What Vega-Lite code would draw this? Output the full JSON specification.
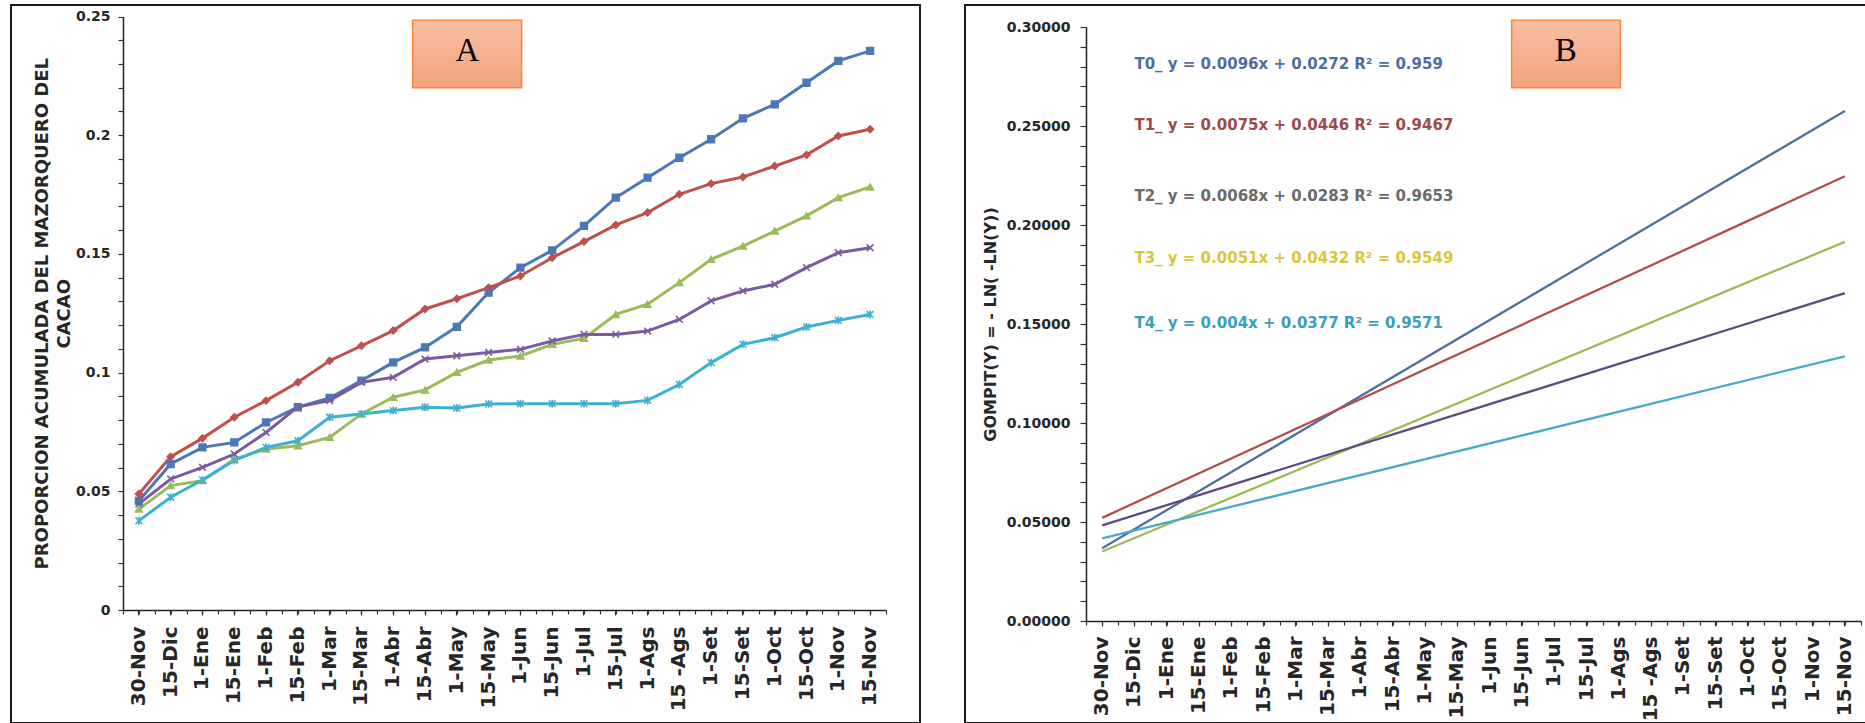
{
  "$schema": "https://vega.github.io/schema/vega-lite/v6.json",
  "padding": {"left": 10, "top": 4, "right": 0, "bottom": 0},
  "background": "white",
  "spacing": 43,
  "config": {
    "view": {"stroke": "#1a1a1a", "strokeWidth": 2},
    "font": "DejaVu Sans",
    "axis": {
      "grid": false,
      "labelFont": "DejaVu Sans",
      "labelFontWeight": "bold",
      "labelColor": "#262626",
      "titleFont": "DejaVu Sans",
      "titleFontWeight": "bold",
      "titleColor": "#262626",
      "domainColor": "#222222",
      "domainWidth": 1.5,
      "tickColor": "#333333",
      "tickWidth": 1.2,
      "tickSize": 5,
      "labelOverlap": false
    }
  },
  "datasets": {
    "obs": [
      {"d": "30-Nov", "s": "T0", "v": 0.046}, {"d": "15-Dic", "s": "T0", "v": 0.0615}, {"d": "1-Ene", "s": "T0", "v": 0.0685}, {"d": "15-Ene", "s": "T0", "v": 0.0706}, {"d": "1-Feb", "s": "T0", "v": 0.079}, {"d": "15-Feb", "s": "T0", "v": 0.0854}, {"d": "1-Mar", "s": "T0", "v": 0.0893}, {"d": "15-Mar", "s": "T0", "v": 0.0966}, {"d": "1-Abr", "s": "T0", "v": 0.1043}, {"d": "15-Abr", "s": "T0", "v": 0.1106}, {"d": "1-May", "s": "T0", "v": 0.1193}, {"d": "15-May", "s": "T0", "v": 0.1337}, {"d": "1-Jun", "s": "T0", "v": 0.1442}, {"d": "15-Jun", "s": "T0", "v": 0.1515}, {"d": "1-Jul", "s": "T0", "v": 0.1618}, {"d": "15-Jul", "s": "T0", "v": 0.1737}, {"d": "1-Ags", "s": "T0", "v": 0.1821}, {"d": "15 -Ags", "s": "T0", "v": 0.1905}, {"d": "1-Set", "s": "T0", "v": 0.1983}, {"d": "15-Set", "s": "T0", "v": 0.2071}, {"d": "1-Oct", "s": "T0", "v": 0.213}, {"d": "15-Oct", "s": "T0", "v": 0.2221}, {"d": "1-Nov", "s": "T0", "v": 0.2313}, {"d": "15-Nov", "s": "T0", "v": 0.2355},
      {"d": "30-Nov", "s": "T1", "v": 0.0489}, {"d": "15-Dic", "s": "T1", "v": 0.0646}, {"d": "1-Ene", "s": "T1", "v": 0.0723}, {"d": "15-Ene", "s": "T1", "v": 0.0812}, {"d": "1-Feb", "s": "T1", "v": 0.0882}, {"d": "15-Feb", "s": "T1", "v": 0.0959}, {"d": "1-Mar", "s": "T1", "v": 0.105}, {"d": "15-Mar", "s": "T1", "v": 0.1113}, {"d": "1-Abr", "s": "T1", "v": 0.1177}, {"d": "15-Abr", "s": "T1", "v": 0.1268}, {"d": "1-May", "s": "T1", "v": 0.1311}, {"d": "15-May", "s": "T1", "v": 0.1358}, {"d": "1-Jun", "s": "T1", "v": 0.1407}, {"d": "15-Jun", "s": "T1", "v": 0.1484}, {"d": "1-Jul", "s": "T1", "v": 0.1552}, {"d": "15-Jul", "s": "T1", "v": 0.1622}, {"d": "1-Ags", "s": "T1", "v": 0.1674}, {"d": "15 -Ags", "s": "T1", "v": 0.1751}, {"d": "1-Set", "s": "T1", "v": 0.1796}, {"d": "15-Set", "s": "T1", "v": 0.1824}, {"d": "1-Oct", "s": "T1", "v": 0.187}, {"d": "15-Oct", "s": "T1", "v": 0.1917}, {"d": "1-Nov", "s": "T1", "v": 0.1997}, {"d": "15-Nov", "s": "T1", "v": 0.2025},
      {"d": "30-Nov", "s": "T2", "v": 0.0425}, {"d": "15-Dic", "s": "T2", "v": 0.0524}, {"d": "1-Ene", "s": "T2", "v": 0.0545}, {"d": "15-Ene", "s": "T2", "v": 0.0635}, {"d": "1-Feb", "s": "T2", "v": 0.0678}, {"d": "15-Feb", "s": "T2", "v": 0.0692}, {"d": "1-Mar", "s": "T2", "v": 0.0727}, {"d": "15-Mar", "s": "T2", "v": 0.0826}, {"d": "1-Abr", "s": "T2", "v": 0.0896}, {"d": "15-Abr", "s": "T2", "v": 0.0927}, {"d": "1-May", "s": "T2", "v": 0.1001}, {"d": "15-May", "s": "T2", "v": 0.1053}, {"d": "1-Jun", "s": "T2", "v": 0.107}, {"d": "15-Jun", "s": "T2", "v": 0.1119}, {"d": "1-Jul", "s": "T2", "v": 0.1144}, {"d": "15-Jul", "s": "T2", "v": 0.1245}, {"d": "1-Ags", "s": "T2", "v": 0.1288}, {"d": "15 -Ags", "s": "T2", "v": 0.1379}, {"d": "1-Set", "s": "T2", "v": 0.1477}, {"d": "15-Set", "s": "T2", "v": 0.1533}, {"d": "1-Oct", "s": "T2", "v": 0.1596}, {"d": "15-Oct", "s": "T2", "v": 0.166}, {"d": "1-Nov", "s": "T2", "v": 0.1737}, {"d": "15-Nov", "s": "T2", "v": 0.1782},
      {"d": "30-Nov", "s": "T3", "v": 0.0447}, {"d": "15-Dic", "s": "T3", "v": 0.0552}, {"d": "1-Ene", "s": "T3", "v": 0.0601}, {"d": "15-Ene", "s": "T3", "v": 0.0657}, {"d": "1-Feb", "s": "T3", "v": 0.0748}, {"d": "15-Feb", "s": "T3", "v": 0.0856}, {"d": "1-Mar", "s": "T3", "v": 0.0882}, {"d": "15-Mar", "s": "T3", "v": 0.0959}, {"d": "1-Abr", "s": "T3", "v": 0.098}, {"d": "15-Abr", "s": "T3", "v": 0.1057}, {"d": "1-May", "s": "T3", "v": 0.1071}, {"d": "15-May", "s": "T3", "v": 0.1085}, {"d": "1-Jun", "s": "T3", "v": 0.1098}, {"d": "15-Jun", "s": "T3", "v": 0.1133}, {"d": "1-Jul", "s": "T3", "v": 0.1161}, {"d": "15-Jul", "s": "T3", "v": 0.1161}, {"d": "1-Ags", "s": "T3", "v": 0.1175}, {"d": "15 -Ags", "s": "T3", "v": 0.1224}, {"d": "1-Set", "s": "T3", "v": 0.1302}, {"d": "15-Set", "s": "T3", "v": 0.1344}, {"d": "1-Oct", "s": "T3", "v": 0.1372}, {"d": "15-Oct", "s": "T3", "v": 0.1442}, {"d": "1-Nov", "s": "T3", "v": 0.1505}, {"d": "15-Nov", "s": "T3", "v": 0.1526},
      {"d": "30-Nov", "s": "T4", "v": 0.0376}, {"d": "15-Dic", "s": "T4", "v": 0.0475}, {"d": "1-Ene", "s": "T4", "v": 0.0548}, {"d": "15-Ene", "s": "T4", "v": 0.063}, {"d": "1-Feb", "s": "T4", "v": 0.0685}, {"d": "15-Feb", "s": "T4", "v": 0.0713}, {"d": "1-Mar", "s": "T4", "v": 0.0812}, {"d": "15-Mar", "s": "T4", "v": 0.0826}, {"d": "1-Abr", "s": "T4", "v": 0.084}, {"d": "15-Abr", "s": "T4", "v": 0.0854}, {"d": "1-May", "s": "T4", "v": 0.0851}, {"d": "15-May", "s": "T4", "v": 0.0868}, {"d": "1-Jun", "s": "T4", "v": 0.0869}, {"d": "15-Jun", "s": "T4", "v": 0.0869}, {"d": "1-Jul", "s": "T4", "v": 0.0869}, {"d": "15-Jul", "s": "T4", "v": 0.0869}, {"d": "1-Ags", "s": "T4", "v": 0.0883}, {"d": "15 -Ags", "s": "T4", "v": 0.095}, {"d": "1-Set", "s": "T4", "v": 0.1042}, {"d": "15-Set", "s": "T4", "v": 0.1119}, {"d": "1-Oct", "s": "T4", "v": 0.1147}, {"d": "15-Oct", "s": "T4", "v": 0.1192}, {"d": "1-Nov", "s": "T4", "v": 0.122}, {"d": "15-Nov", "s": "T4", "v": 0.1245}
    ],
    "fit": [
      {"d": "30-Nov", "s": "T0", "v": 0.0368}, {"d": "15-Nov", "s": "T0", "v": 0.2576},
      {"d": "30-Nov", "s": "T1", "v": 0.0521}, {"d": "15-Nov", "s": "T1", "v": 0.2246},
      {"d": "30-Nov", "s": "T2", "v": 0.0351}, {"d": "15-Nov", "s": "T2", "v": 0.1915},
      {"d": "30-Nov", "s": "T3", "v": 0.0483}, {"d": "15-Nov", "s": "T3", "v": 0.1656},
      {"d": "30-Nov", "s": "T4", "v": 0.0417}, {"d": "15-Nov", "s": "T4", "v": 0.1337}
    ],
    "eq": [
      {"s": "T0", "t": "T0_ y = 0.0096x + 0.0272  R² = 0.959", "d": "15-Dic", "v": 0.2813},
      {"s": "T1", "t": "T1_ y = 0.0075x + 0.0446  R² = 0.9467", "d": "15-Dic", "v": 0.2505},
      {"s": "T2", "t": "T2_ y = 0.0068x + 0.0283  R² = 0.9653", "d": "15-Dic", "v": 0.2146},
      {"s": "T3", "t": "T3_ y = 0.0051x + 0.0432  R² = 0.9549", "d": "15-Dic", "v": 0.1833},
      {"s": "T4", "t": "T4_ y = 0.004x + 0.0377  R² = 0.9571", "d": "15-Dic", "v": 0.1505}
    ]
  },
  "hconcat": [
    {
      "width": 909,
      "height": 718,
      "resolve": {"scale": {"x": "independent"}, "axis": {"x": "independent"}},
      "layer": [
        {
          "data": {"name": "obs"},
          "encoding": {
            "x": {
              "field": "d", "type": "nominal",
              "scale": {"type": "band", "domain": ["30-Nov","15-Dic","1-Ene","15-Ene","1-Feb","15-Feb","1-Mar","15-Mar","1-Abr","15-Abr","1-May","15-May","1-Jun","15-Jun","1-Jul","15-Jul","1-Ags","15 -Ags","1-Set","15-Set","1-Oct","15-Oct","1-Nov","15-Nov"], "range": [112, 875], "paddingInner": 0, "paddingOuter": 0},
              "axis": {"orient": "bottom", "offset": -113, "title": null, "labelAngle": 270, "labelFontSize": 20, "labelPadding": 11, "labelOverlap": false, "labelBound": false}
            },
            "y": {
              "field": "v", "type": "quantitative",
              "scale": {"domain": [0, 0.25], "range": [605, 11.5], "nice": false, "zero": true},
              "axis": {
                "orient": "left", "offset": -112,
                "values": [0,0.01,0.02,0.03,0.04,0.05,0.06,0.07,0.08,0.09,0.1,0.11,0.12,0.13,0.14,0.15,0.16,0.17,0.18,0.19,0.2,0.21,0.22,0.23,0.24,0.25],
                "labelExpr": "abs(round(datum.value*100)) % 5 == 0 ? '' + round(datum.value*100)/100 : ''",
                "labelFontSize": 14, "labelPadding": 8, "labelOverlap": false,
                "title": ["PROPORCION ACUMULADA DEL MAZORQUERO DEL", "CACAO"],
                "titleFontSize": 18, "titleX": -76, "titleBaseline": "alphabetic", "titleLineHeight": 22
              }
            },
            "color": {"field": "s", "type": "nominal", "legend": null, "scale": {"domain": ["T0","T1","T2","T3","T4"], "range": ["#4C78B5","#C0504D","#9BBB59","#7A5C9E","#3FB0D2"]}}
          },
          "layer": [
            {"mark": {"type": "line", "strokeWidth": 3}},
            {
              "mark": {"type": "point", "filled": true, "size": 45, "opacity": 1, "strokeWidth": 1.6},
              "encoding": {
                "stroke": {"field": "s", "type": "nominal", "legend": null, "scale": {"domain": ["T0","T1","T2","T3","T4"], "range": ["#4C78B5","#C0504D","#9BBB59","#7A5C9E","#3FB0D2"]}},
                "shape": {"field": "s", "type": "nominal", "legend": null, "scale": {"domain": ["T0","T1","T2","T3","T4"], "range": ["square","diamond","triangle-up","M-1,-1L1,1M1,-1L-1,1","M-1,-1L1,1M1,-1L-1,1M0,-1.2L0,1.2"]}}
              }
            }
          ]
        },
        {
          "data": {"values": [{"lab": "A", "x0": 9.11, "x1": 12.54, "v": 0.2484, "v2": 0.22, "tx": 10.83, "ty": 0.2313}]},
          "layer": [
            {
              "mark": {"type": "rect", "fill": {"gradient": "linear", "x1": 0, "y1": 0, "x2": 0, "y2": 1, "stops": [{"offset": 0, "color": "#F6BFA3"}, {"offset": 1, "color": "#F3A27D"}]}, "stroke": "#F5863C", "strokeWidth": 1.5},
              "encoding": {
                "x": {"field": "x0", "type": "quantitative", "scale": {"domain": [0, 24], "range": [112, 875], "nice": false, "zero": false},
                  "axis": {"orient": "bottom", "offset": -113, "title": null, "labels": false, "domain": false, "tickSize": 4, "values": [0,0.5,1,1.5,2,2.5,3,3.5,4,4.5,5,5.5,6,6.5,7,7.5,8,8.5,9,9.5,10,10.5,11,11.5,12,12.5,13,13.5,14,14.5,15,15.5,16,16.5,17,17.5,18,18.5,19,19.5,20,20.5,21,21.5,22,22.5,23,23.5,24]}},
                "x2": {"field": "x1"},
                "y": {
                  "field": "v", "type": "quantitative",
                  "axis": {
                    "orient": "left", "offset": -112,
                    "values": [0,0.01,0.02,0.03,0.04,0.05,0.06,0.07,0.08,0.09,0.1,0.11,0.12,0.13,0.14,0.15,0.16,0.17,0.18,0.19,0.2,0.21,0.22,0.23,0.24,0.25],
                    "labelExpr": "abs(round(datum.value*100)) % 5 == 0 ? '' + round(datum.value*100)/100 : ''",
                    "labelFontSize": 14, "labelPadding": 8, "labelOverlap": false,
                    "title": ["PROPORCION ACUMULADA DEL MAZORQUERO DEL", "CACAO"],
                    "titleFontSize": 18, "titleX": -76, "titleBaseline": "alphabetic", "titleLineHeight": 22
                  }
                },
                "y2": {"field": "v2"}
              }
            },
            {
              "mark": {"type": "text", "font": "Liberation Serif", "fontSize": 33, "color": "#000000", "align": "center", "baseline": "alphabetic"},
              "encoding": {
                "x": {"field": "tx", "type": "quantitative", "scale": {"domain": [0, 24], "range": [112, 875], "nice": false, "zero": false},
                  "axis": {"orient": "bottom", "offset": -113, "title": null, "labels": false, "domain": false, "tickSize": 4, "values": [0,0.5,1,1.5,2,2.5,3,3.5,4,4.5,5,5.5,6,6.5,7,7.5,8,8.5,9,9.5,10,10.5,11,11.5,12,12.5,13,13.5,14,14.5,15,15.5,16,16.5,17,17.5,18,18.5,19,19.5,20,20.5,21,21.5,22,22.5,23,23.5,24]}},
                "y": {
                  "field": "ty", "type": "quantitative",
                  "axis": {
                    "orient": "left", "offset": -112,
                    "values": [0,0.01,0.02,0.03,0.04,0.05,0.06,0.07,0.08,0.09,0.1,0.11,0.12,0.13,0.14,0.15,0.16,0.17,0.18,0.19,0.2,0.21,0.22,0.23,0.24,0.25],
                    "labelExpr": "abs(round(datum.value*100)) % 5 == 0 ? '' + round(datum.value*100)/100 : ''",
                    "labelFontSize": 14, "labelPadding": 8, "labelOverlap": false,
                    "title": ["PROPORCION ACUMULADA DEL MAZORQUERO DEL", "CACAO"],
                    "titleFontSize": 18, "titleX": -76, "titleBaseline": "alphabetic", "titleLineHeight": 22
                  }
                },
                "text": {"field": "lab"}
              }
            }
          ]
        }
      ]
    },
    {
      "width": 902,
      "height": 718,
      "resolve": {"scale": {"x": "independent"}, "axis": {"x": "independent"}},
      "layer": [
        {
          "encoding": {
            "x": {
              "field": "d", "type": "nominal",
              "scale": {"type": "band", "domain": ["30-Nov","15-Dic","1-Ene","15-Ene","1-Feb","15-Feb","1-Mar","15-Mar","1-Abr","15-Abr","1-May","15-May","1-Jun","15-Jun","1-Jul","15-Jul","1-Ags","15 -Ags","1-Set","15-Set","1-Oct","15-Oct","1-Nov","15-Nov"], "range": [121, 896], "paddingInner": 0, "paddingOuter": 0},
              "axis": {"orient": "bottom", "offset": -102, "title": null, "labelAngle": 270, "labelFontSize": 20, "labelPadding": 10, "labelOverlap": false, "labelBound": false}
            },
            "y": {
              "field": "v", "type": "quantitative",
              "scale": {"domain": [0, 0.3], "range": [616, 22], "nice": false, "zero": true},
              "axis": {
                "orient": "left", "offset": -121,
                "values": [0,0.01,0.02,0.03,0.04,0.05,0.06,0.07,0.08,0.09,0.1,0.11,0.12,0.13,0.14,0.15,0.16,0.17,0.18,0.19,0.2,0.21,0.22,0.23,0.24,0.25,0.26,0.27,0.28,0.29,0.3],
                "labelExpr": "abs(round(datum.value*100)) % 5 == 0 ? format(datum.value, '.5f') : ''",
                "labelFontSize": 14, "labelPadding": 10, "tickSize": 6, "labelOverlap": false,
                "title": "GOMPIT(Y) = - LN( -LN(Y))",
                "titleFontSize": 16, "titleX": -91, "titleBaseline": "alphabetic"
              }
            }
          },
          "resolve": {"scale": {"color": "independent"}},
          "layer": [
            {
              "data": {"name": "fit"},
              "mark": {"type": "line", "strokeWidth": 2.3},
              "encoding": {
                "color": {"field": "s", "type": "nominal", "legend": null, "scale": {"domain": ["T0","T1","T2","T3","T4"], "range": ["#4F6F9C","#B0504D","#9BBB59","#5E4A80","#4AAAC4"]}}
              }
            },
            {
              "data": {"name": "eq"},
              "mark": {"type": "text", "font": "DejaVu Sans", "fontWeight": "bold", "fontSize": 15, "align": "left", "baseline": "middle"},
              "encoding": {
                "text": {"field": "t"},
                "color": {"field": "s", "type": "nominal", "legend": null, "scale": {"domain": ["T0","T1","T2","T3","T4"], "range": ["#4F6E9E","#9E4A4A","#6A6A6A","#D8C63C","#3A9EBE"]}}
              }
            }
          ]
        },
        {
          "data": {"values": [{"lab": "B", "x0": 13.18, "x1": 16.55, "v": 0.3034, "v2": 0.2693, "tx": 14.86, "ty": 0.2828}]},
          "layer": [
            {
              "mark": {"type": "rect", "fill": {"gradient": "linear", "x1": 0, "y1": 0, "x2": 0, "y2": 1, "stops": [{"offset": 0, "color": "#F6BFA3"}, {"offset": 1, "color": "#F3A27D"}]}, "stroke": "#F5863C", "strokeWidth": 1.5},
              "encoding": {
                "x": {"field": "x0", "type": "quantitative", "scale": {"domain": [0, 24], "range": [121, 896], "nice": false, "zero": false},
                  "axis": {"orient": "bottom", "offset": -102, "title": null, "labels": false, "domain": false, "tickSize": 4, "values": [0,0.5,1,1.5,2,2.5,3,3.5,4,4.5,5,5.5,6,6.5,7,7.5,8,8.5,9,9.5,10,10.5,11,11.5,12,12.5,13,13.5,14,14.5,15,15.5,16,16.5,17,17.5,18,18.5,19,19.5,20,20.5,21,21.5,22,22.5,23,23.5,24]}},
                "x2": {"field": "x1"},
                "y": {
                  "field": "v", "type": "quantitative",
                  "axis": {
                    "orient": "left", "offset": -121,
                    "values": [0,0.01,0.02,0.03,0.04,0.05,0.06,0.07,0.08,0.09,0.1,0.11,0.12,0.13,0.14,0.15,0.16,0.17,0.18,0.19,0.2,0.21,0.22,0.23,0.24,0.25,0.26,0.27,0.28,0.29,0.3],
                    "labelExpr": "abs(round(datum.value*100)) % 5 == 0 ? format(datum.value, '.5f') : ''",
                    "labelFontSize": 14, "labelPadding": 10, "tickSize": 6, "labelOverlap": false,
                    "title": "GOMPIT(Y) = - LN( -LN(Y))",
                    "titleFontSize": 16, "titleX": -91, "titleBaseline": "alphabetic"
                  }
                },
                "y2": {"field": "v2"}
              }
            },
            {
              "mark": {"type": "text", "font": "Liberation Serif", "fontSize": 33, "color": "#000000", "align": "center", "baseline": "alphabetic"},
              "encoding": {
                "x": {"field": "tx", "type": "quantitative", "scale": {"domain": [0, 24], "range": [121, 896], "nice": false, "zero": false},
                  "axis": {"orient": "bottom", "offset": -102, "title": null, "labels": false, "domain": false, "tickSize": 4, "values": [0,0.5,1,1.5,2,2.5,3,3.5,4,4.5,5,5.5,6,6.5,7,7.5,8,8.5,9,9.5,10,10.5,11,11.5,12,12.5,13,13.5,14,14.5,15,15.5,16,16.5,17,17.5,18,18.5,19,19.5,20,20.5,21,21.5,22,22.5,23,23.5,24]}},
                "y": {
                  "field": "ty", "type": "quantitative",
                  "axis": {
                    "orient": "left", "offset": -121,
                    "values": [0,0.01,0.02,0.03,0.04,0.05,0.06,0.07,0.08,0.09,0.1,0.11,0.12,0.13,0.14,0.15,0.16,0.17,0.18,0.19,0.2,0.21,0.22,0.23,0.24,0.25,0.26,0.27,0.28,0.29,0.3],
                    "labelExpr": "abs(round(datum.value*100)) % 5 == 0 ? format(datum.value, '.5f') : ''",
                    "labelFontSize": 14, "labelPadding": 10, "tickSize": 6, "labelOverlap": false,
                    "title": "GOMPIT(Y) = - LN( -LN(Y))",
                    "titleFontSize": 16, "titleX": -91, "titleBaseline": "alphabetic"
                  }
                },
                "text": {"field": "lab"}
              }
            }
          ]
        }
      ]
    }
  ]
}
